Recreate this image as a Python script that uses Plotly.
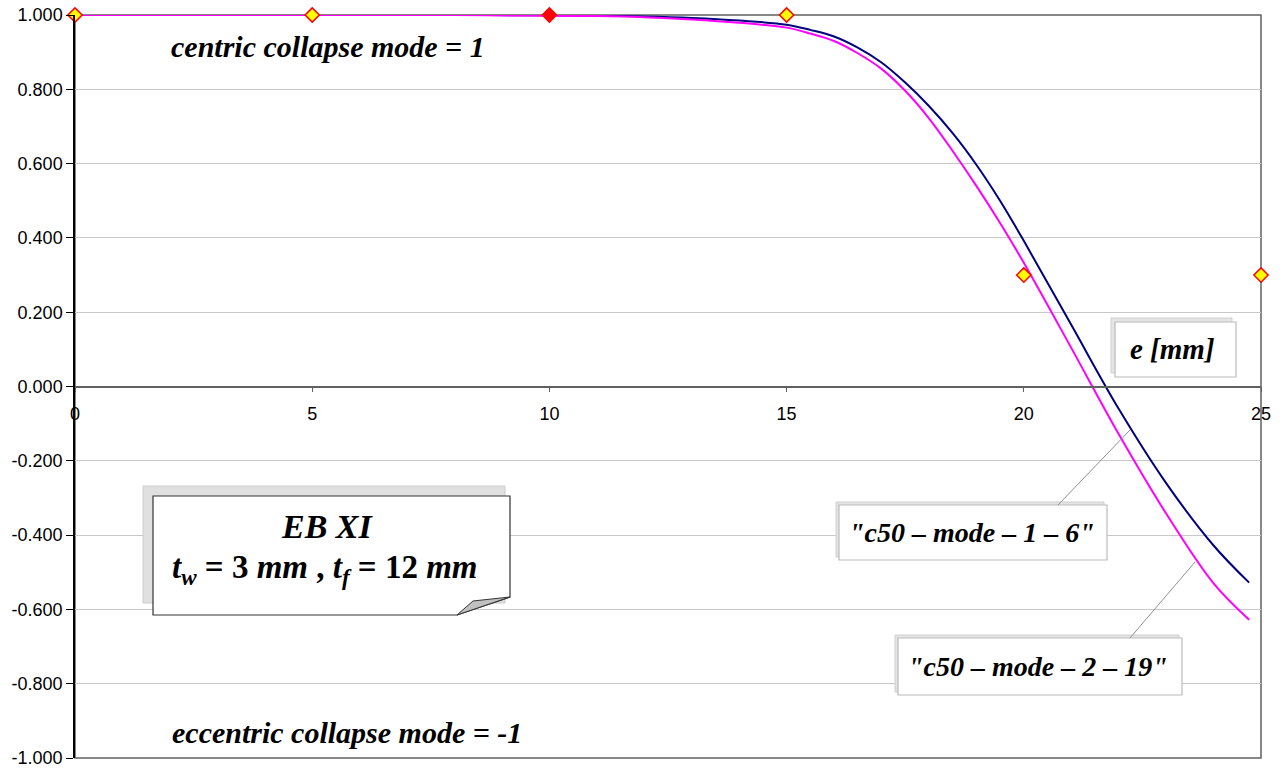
import plotly.graph_objects as go

# ---- data ----
curve_x = [0, 2, 4, 6, 8, 10, 11, 12, 13, 14, 15, 15.5, 16, 16.5, 17, 17.5, 18, 18.5, 19, 19.5,
           20, 21, 22, 23, 24, 24.75]
mode1_y = [1.000, 1.000, 1.000, 1.000, 1.000, 0.999, 0.998, 0.996, 0.992, 0.985, 0.974, 0.960,
           0.942, 0.912, 0.872, 0.818, 0.755, 0.682, 0.597, 0.500,
           0.392, 0.166, -0.060, -0.260, -0.428, -0.528]
mode2_y = [1.000, 1.000, 1.000, 1.000, 1.000, 0.998, 0.997, 0.994, 0.988, 0.979, 0.966, 0.950,
           0.930, 0.897, 0.855, 0.796, 0.722, 0.634, 0.540, 0.440,
           0.333, 0.104, -0.128, -0.342, -0.530, -0.628]

pts_x = [0, 5, 15, 20, 25]
pts_y = [1.0, 1.0, 1.0, 0.3, 0.3]
red_x = [10]
red_y = [1.0]

y_ticks = [-1.0, -0.8, -0.6, -0.4, -0.2, 0.0, 0.2, 0.4, 0.6, 0.8, 1.0]
y_tick_labels = ["-1.000", "-0.800", "-0.600", "-0.400", "-0.200", "0.000",
                 "0.200", "0.400", "0.600", "0.800", "1.000"]
x_ticks = [0, 5, 10, 15, 20, 25]
x_tick_labels = ["0", "5", "10", "15", "20", "25"]

W, H = 1285, 771
ML, MR, MT, MB = 75, 24, 15, 13
PW, PH = W - ML - MR, H - MT - MB


def px(x):
    return (x - ML) / PW


def py(y):
    return (H - MB - y) / PH


SERIF = "Liberation Serif, Times New Roman, serif"
SANS = "Liberation Sans, Arial, sans-serif"

fig = go.Figure()
fig.add_trace(go.Scatter(x=curve_x, y=mode1_y, mode="lines",
                         line=dict(color="#000080", width=2, shape="spline", smoothing=1.0),
                         cliponaxis=False, showlegend=False))
fig.add_trace(go.Scatter(x=curve_x, y=mode2_y, mode="lines",
                         line=dict(color="#FF00FF", width=2, shape="spline", smoothing=1.0),
                         cliponaxis=False, showlegend=False))
fig.add_trace(go.Scatter(x=pts_x, y=pts_y, mode="markers",
                         marker=dict(symbol="diamond", size=11, color="#FFFF00", line=dict(color="#FF0000", width=1.5)),
                         cliponaxis=False, showlegend=False))
fig.add_trace(go.Scatter(x=red_x, y=red_y, mode="markers",
                         marker=dict(symbol="diamond", size=11, color="#FF0000", line=dict(color="#FF0000", width=1.5)),
                         cliponaxis=False, showlegend=False))

shapes = []
# plot border
shapes.append(dict(type="rect", xref="paper", yref="paper", x0=0, x1=1, y0=0, y1=1,
                   line=dict(color="#606060", width=1.5), layer="below"))


def box(x0, y0, x1, y1, sdx, sdy):
    shapes.append(dict(type="rect", xref="paper", yref="paper",
                       x0=px(x0 + sdx), x1=px(x1 + sdx), y0=py(y1 + sdy), y1=py(y0 + sdy),
                       fillcolor="#E4E4E4", line=dict(color="#D0D0D0", width=1), layer="above"))
    shapes.append(dict(type="rect", xref="paper", yref="paper",
                       x0=px(x0), x1=px(x1), y0=py(y1), y1=py(y0),
                       fillcolor="white", line=dict(color="#BBBBBB", width=1.2), layer="above"))


box(1115, 322, 1236, 377, -4, -4)
box(839, 505, 1107, 560, -3, -3)
box(898, 638, 1182, 695, -3, -3)

# leader lines
shapes.append(dict(type="line", xref="paper", yref="paper", x0=px(1058), y0=py(505), x1=px(1130), y1=py(430),
                   line=dict(color="#909090", width=1)))
shapes.append(dict(type="line", xref="paper", yref="paper", x0=px(1130), y0=py(638), x1=px(1195), y1=py(562),
                   line=dict(color="#909090", width=1)))

# EB XI note with folded corner
shapes.append(dict(type="rect", xref="paper", yref="paper", x0=px(143), x1=px(505), y0=py(603), y1=py(486),
                   fillcolor="#E0E0E0", line=dict(color="#CCCCCC", width=1), layer="above"))


def path(points):
    return "M " + " L ".join(f"{px(a):.5f},{py(b):.5f}" for a, b in points) + " Z"


shapes.append(dict(type="path", xref="paper", yref="paper",
                   path=path([(153, 496), (510, 496), (510, 597), (457, 615), (153, 615)]),
                   fillcolor="white", line=dict(color="#333333", width=1.2), layer="above"))
shapes.append(dict(type="path", xref="paper", yref="paper",
                   path=path([(510, 597), (473, 601), (457, 615)]),
                   fillcolor="#C0C0C0", line=dict(color="#333333", width=1), layer="above"))

ann = []


def label(x, y, text, size):
    ann.append(dict(xref="paper", yref="paper", x=px(x), y=py(y), text=text, showarrow=False,
                    xanchor="center", yanchor="middle", font=dict(family=SERIF, size=size, color="black")))


label(328, 47, "<b><i>centric collapse mode = 1</i></b>", 30)
label(347, 732, "<b><i>eccentric collapse mode = -1</i></b>", 30)
label(1172, 349, "<b><i>e [mm]</i></b>", 29)
label(972, 532, "<b><i>\"c50 – mode – 1 – 6\"</i></b>", 28)
label(1038, 666, "<b><i>\"c50 – mode – 2 – 19\"</i></b>", 28)
label(327, 526, "<b><i>EB XI</i></b>", 34)
label(325, 569, "<b><i>t</i><sub><i>w</i></sub> = 3 <i>mm</i> , <i>t</i><sub><i>f</i></sub> = 12 <i>mm</i></b>", 33)

fig.update_layout(
    width=W, height=H,
    margin=dict(l=ML, r=MR, t=MT, b=MB, autoexpand=False),
    paper_bgcolor="white", plot_bgcolor="white",
    shapes=shapes, annotations=ann,
    xaxis=dict(range=[0, 25], tickvals=x_ticks, ticktext=x_tick_labels, anchor="free", position=0.5,
               showline=True, linecolor="#606060", linewidth=1.5, ticks="outside", ticklen=5,
               tickcolor="#606060", showgrid=False, zeroline=False, ticklabelstandoff=6, automargin=False,
               tickfont=dict(family=SANS, size=18, color="black")),
    yaxis=dict(range=[-1, 1], tickvals=y_ticks, ticktext=y_tick_labels, showline=True, linecolor="black",
               linewidth=1.5, ticks="outside", ticklen=7, tickcolor="black", showgrid=True,
               gridcolor="#C8C8C8", gridwidth=1, zeroline=False, automargin=False,
               tickfont=dict(family=SANS, size=18, color="black")),
)

fig.write_html("out.html", config={"displayModeBar": False},
               post_script="document.body.style.margin='0px';")
